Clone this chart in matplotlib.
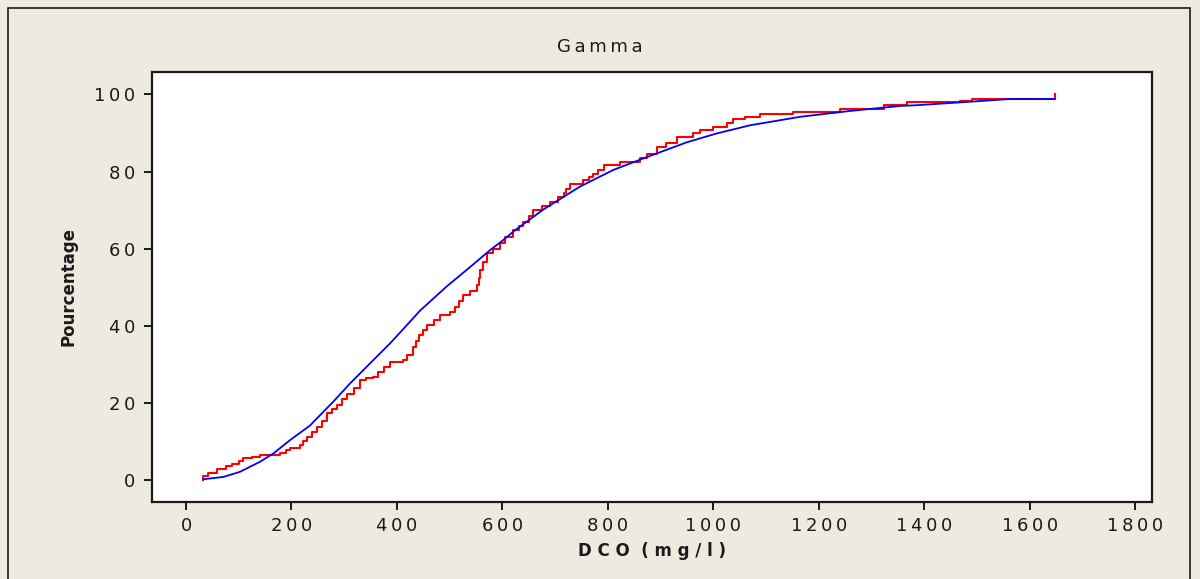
import matplotlib
matplotlib.use("Agg")
import matplotlib.pyplot as plt
from matplotlib.patches import Rectangle
from matplotlib.ticker import FuncFormatter

# Empirical distribution of DCO (step function): jump position and cumulative %
obs_dco = [33, 33, 42, 58, 75, 87, 100, 109, 125, 140, 178, 190, 197, 216, 222,
           229, 238, 248, 258, 267, 276, 286, 295, 305, 318, 330, 342, 355, 365,
           375, 387, 412, 420, 431, 436, 441, 449, 457, 470, 482, 501, 510, 518,
           526, 538, 551, 555, 558, 563, 570, 582, 596, 605, 621, 632, 640, 650,
           659, 675, 690, 705, 716, 720, 728, 753, 765, 772, 782, 792, 823, 861,
           875, 893, 910, 931, 962, 975, 1000, 1026, 1038, 1060, 1089, 1152, 1241,
           1323, 1367, 1468, 1490, 1648, 1648]
obs_pct = [0, 1.1, 2, 3, 3.6, 4.2, 5, 5.7, 6, 6.6, 7.2, 7.8, 8.3, 9.1, 10.2,
           11.3, 12.5, 13.9, 15.5, 17.4, 18.5, 19.5, 21, 22.5, 24, 26, 26.4, 26.8,
           28, 29.4, 30.7, 31.2, 32.5, 34.6, 36, 37.6, 39, 40.2, 41.5, 42.8, 43.7,
           45, 46.5, 48, 49, 50.6, 52.5, 54.5, 56.5, 58.8, 60, 61.4, 63, 64.8, 66,
           67, 68.5, 70, 71, 72.2, 73.3, 74.4, 75.5, 76.9, 77.8, 78.6, 79.5, 80.5,
           81.7, 82.5, 83.4, 84.6, 86.4, 87.5, 89, 89.9, 90.9, 91.5, 92.5, 93.5,
           94.2, 94.9, 95.5, 96.2, 97.2, 97.9, 98.3, 98.8, 98.8, 100]

# Fitted gamma distribution (cumulative %)
fit_dco = [33, 71, 102, 140, 166, 197, 235, 280, 311, 349, 387, 406, 444, 494,
           539, 577, 602, 621, 652, 678, 747, 810, 867, 950, 1007, 1070, 1165,
           1259, 1354, 1386, 1487, 1563, 1648]
fit_pct = [0.3, 0.9, 2.2, 4.8, 7, 10.4, 14.2, 20.5, 25.1, 30.3, 35.5, 38.3, 44.0,
           50.2, 55.3, 59.7, 62.3, 64.5, 67.6, 70.2, 76.1, 80.4, 83.4, 87.6, 89.9,
           92, 94.2, 95.7, 97, 97.2, 98.1, 98.8, 98.8]

x_ticks = [0, 200, 400, 600, 800, 1000, 1200, 1400, 1600, 1800]
y_ticks = [0, 20, 40, 60, 80, 100]

BG = "#eeeae0"
INK = "#1a1a1a"

plt.rcParams["font.family"] = ["DejaVu Sans"]

fig = plt.figure(figsize=(12, 5.79), dpi=100, facecolor=BG)

# outer frame of the graph window
fig.patches.append(Rectangle((8 / 1200, -0.05), 1182 / 1200, 1.05 - 8 / 579,
                             transform=fig.transFigure, fill=False,
                             edgecolor=INK, linewidth=1.2))

ax = fig.add_axes([152 / 1200, 1 - 502 / 579, 1000 / 1200, 430 / 579])
ax.set_facecolor("white")

ax.plot(fit_dco, fit_pct, color="#0000ff", linewidth=1.3, zorder=3)
ax.plot(obs_dco, obs_pct, color="#ff0000", linewidth=1.5, drawstyle="steps-post",
        zorder=2)

ax.set_xlim(-64.5, 1832)
ax.set_ylim(-5.6, 105.8)
ax.set_xticks(x_ticks)
ax.set_yticks(y_ticks)

spaced = FuncFormatter(lambda v, pos: "\u2009".join(str(int(round(v)))))
ax.xaxis.set_major_formatter(spaced)
ax.yaxis.set_major_formatter(spaced)

ax.tick_params(axis="both", direction="out", length=6, width=1.4, colors=INK,
               labelsize=13, pad=5)
ax.tick_params(axis="y", pad=6)
for side in ax.spines.values():
    side.set_linewidth(1.6)
    side.set_color(INK)

fig.text(600 / 1200, 1 - 47 / 579, "\u2009".join("Gamma"), ha="center",
         va="center", fontsize=13, color=INK)
ax.set_xlabel("D C O  ( m g / l )", fontsize=12, fontweight="bold", color=INK,
              labelpad=5)
ax.set_ylabel("Pourcentage", fontsize=12, fontweight="bold", color=INK,
              labelpad=12)

fig.savefig("out.png", dpi=100, facecolor=BG)
